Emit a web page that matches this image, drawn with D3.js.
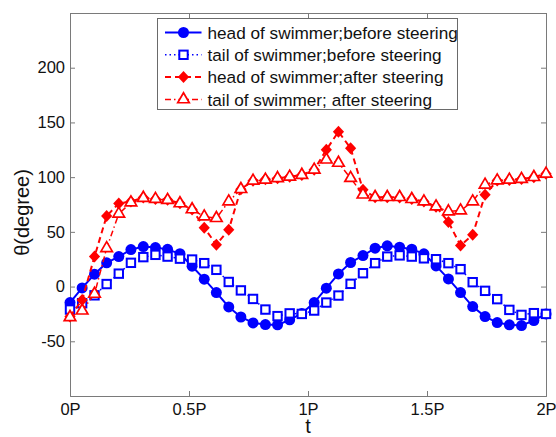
<!DOCTYPE html>
<html>
  <head>
    <meta charset="utf-8" />
    <title>theta vs t</title>
    <script src="https://d3js.org/d3.v7.min.js"></script>
    <style>
      body { margin: 0; background: #fff; }
      text { font-family: Arial, 'Liberation Sans', sans-serif; fill: #111; }
    </style>
  </head>
  <body>
    <script>
      // sample times, in units of P
      const t = [0, 0.051, 0.103, 0.154, 0.205, 0.256, 0.308, 0.359, 0.41, 0.462, 0.513, 0.564, 0.615, 0.667,
        0.718, 0.769, 0.821, 0.872, 0.923, 0.974, 1.026, 1.077, 1.128, 1.179, 1.231, 1.282, 1.333, 1.385,
        1.436, 1.487, 1.538, 1.59, 1.641, 1.692, 1.744, 1.795, 1.846, 1.897, 1.949, 2.0];

      const headBefore = [-14.6, -1.2, 11.3, 21.7, 27.4, 33.8, 36.6, 35.6, 34, 30, 18.6, 6.8, -5.5, -18.6,
        -27.8, -33.2, -34.7, -35, -30.4, -24.6, -14.6, -1.5, 11.6, 22, 28.3, 35.1, 37.2, 36, 34.2, 29.9,
        18.9, 7, -5.5, -18.3, -27.4, -32.9, -35, -35.6, -31, -25];
      const tailBefore = [-21, -15.2, -8, 2.3, 11.8, 21.7, 26.9, 29, 27.4, 25.5, 24.7, 21.4, 15.3, 4.2,
        -3.5, -11.3, -21, -27, -24.5, -25, -21.9, -14.6, -8.2, 2.5, 12.2, 21.4, 27.4, 28.5, 27.4, 25.8,
        25, 21.4, 15.9, 4, -3.9, -11.5, -21.3, -25.9, -24.3, -25];
      const headAfter = [-27.4, -12.2, 27.4, 64.5, 76, 77.7, 81.5, 80, 79.3, 76.2, 70.5, 53.8, 38.3, 52,
        89, 96.8, 98, 99, 100.3, 102, 106.7, 125, 141.5, 126.5, 88.4, 81.7, 81.7, 81.5, 80, 77.7, 73,
        59, 37.5, 47.3, 84, 96.9, 97.5, 98.2, 100, 103];
      const tailAfter = [-28, -22, -6.7, 35, 66.5, 76.8, 81, 80, 79, 76, 70.5, 64, 62.5, 77.7, 89, 96.6,
        97.5, 99, 100.3, 102, 106.7, 116, 113, 99.1, 84, 81.7, 81.7, 81.7, 79.9, 77.7, 73.1, 68.6, 69.5,
        77.7, 93, 96.9, 97.5, 98.2, 100, 103];

      const seriesNames = [
        'head of swimmer;before steering',
        'tail of swimmer;before steering',
        'head of swimmer;after steering',
        'tail of swimmer; after steering',
      ];
      const xTicks = [0, 0.5, 1, 1.5, 2];
      const xTickLabels = ['0P', '0.5P', '1P', '1.5P', '2P'];
      const yTicks = [-50, 0, 50, 100, 150, 200];
      const yTickLabels = ['-50', '0', '50', '100', '150', '200'];

      const W = 556, H = 437;
      const margin = { top: 13, right: 10, bottom: 41, left: 70 };
      const w = W - margin.left - margin.right;
      const h = H - margin.top - margin.bottom;

      const svg = d3.select('body').append('svg').attr('width', W).attr('height', H);
      const g = svg.append('g').attr('transform', 'translate(' + margin.left + ',' + margin.top + ')');

      const x = d3.scaleLinear().domain([0, 2]).range([0, w]);
      const y = d3.scaleLinear().domain([-100, 250]).range([h, 0]);

      const styles = [
        { data: headBefore, color: '#0000ff', dash: null, width: 2, marker: 'circle' },
        { data: tailBefore, color: '#0000ff', dash: '1.5,3', width: 1.5, marker: 'square' },
        { data: headAfter, color: '#ff0000', dash: '6,4', width: 2, marker: 'diamond' },
        { data: tailAfter, color: '#ff0000', dash: '6,3,1.5,3', width: 1.5, marker: 'triangle' },
      ];

      function drawMarker(sel, kind, color) {
        if (kind === 'circle') {
          sel.append('circle').attr('r', 5.5).attr('fill', color);
        } else if (kind === 'square') {
          sel.append('rect').attr('x', -4.2).attr('y', -4.2).attr('width', 8.4).attr('height', 8.4)
            .attr('fill', '#fff').attr('stroke', color).attr('stroke-width', 2);
        } else if (kind === 'diamond') {
          sel.append('path').attr('d', 'M0,-6L5.6,0L0,6L-5.6,0Z').attr('fill', color);
        } else {
          sel.append('path').attr('d', d3.symbol(d3.symbolTriangle, 58)())
            .attr('fill', '#fff').attr('stroke', color).attr('stroke-width', 1.7);
        }
      }

      // ticks (MATLAB style: inward, on all four sides)
      const axisColor = '#7a7a7a';
      const axBottom = g.append('g').attr('transform', 'translate(0,' + h + ')')
        .call(d3.axisBottom(x).tickValues(xTicks).tickSize(-5).tickPadding(7.5)
          .tickFormat((d, i) => xTickLabels[i]));
      const axLeft = g.append('g')
        .call(d3.axisLeft(y).tickValues(yTicks).tickSize(-5).tickPadding(5)
          .tickFormat((d, i) => yTickLabels[i]));
      const axTop = g.append('g')
        .call(d3.axisTop(x).tickValues(xTicks).tickSize(-5).tickFormat(''));
      const axRight = g.append('g').attr('transform', 'translate(' + w + ',0)')
        .call(d3.axisRight(y).tickValues(yTicks).tickSize(-5).tickFormat(''));
      [axBottom, axLeft, axTop, axRight].forEach((a) => {
        a.select('.domain').attr('stroke', axisColor);
        a.selectAll('.tick line').attr('stroke', axisColor);
        a.selectAll('.tick text').style('font-size', '16.5px').attr('fill', '#111');
      });

      // series
      styles.forEach((s) => {
        const pts = t.map((tv, i) => [tv, s.data[i]]);
        g.append('path').datum(pts)
          .attr('fill', 'none').attr('stroke', s.color).attr('stroke-width', s.width)
          .attr('stroke-dasharray', s.dash)
          .attr('d', d3.line().x((d) => x(d[0])).y((d) => y(d[1])));
        g.selectAll(null).data(pts).enter().append('g')
          .attr('transform', (d) => 'translate(' + x(d[0]) + ',' + y(d[1]) + ')')
          .each(function () { drawMarker(d3.select(this), s.marker, s.color); });
      });

      // legend
      const lg = svg.append('g').attr('transform', 'translate(157.5,18.5)');
      lg.append('rect').attr('width', 300).attr('height', 91)
        .attr('fill', '#fff').attr('stroke', '#6a6a6a').attr('stroke-width', 1);
      styles.forEach((s, i) => {
        const row = lg.append('g').attr('transform', 'translate(0,' + (14 + i * 22.3) + ')');
        row.append('line').attr('x1', 7.5).attr('x2', 44).attr('stroke', s.color)
          .attr('stroke-width', s.width).attr('stroke-dasharray', s.dash);
        const m = row.append('g').attr('transform', 'translate(26,0)');
        drawMarker(m, s.marker, s.color);
        row.append('text').attr('x', 50).attr('dy', '0.36em').style('font-size', '17.2px')
          .text(seriesNames[i]);
      });

      // axis titles
      svg.append('text').attr('transform', 'translate(29,' + (margin.top + h / 2 + 8) + ') rotate(-90)')
        .attr('text-anchor', 'middle').style('font-size', '20px').text('θ(degree)');
      svg.append('text').attr('x', margin.left + w / 2).attr('y', 433)
        .attr('text-anchor', 'middle').style('font-size', '20px').text('t');
    </script>
  </body>
</html>
